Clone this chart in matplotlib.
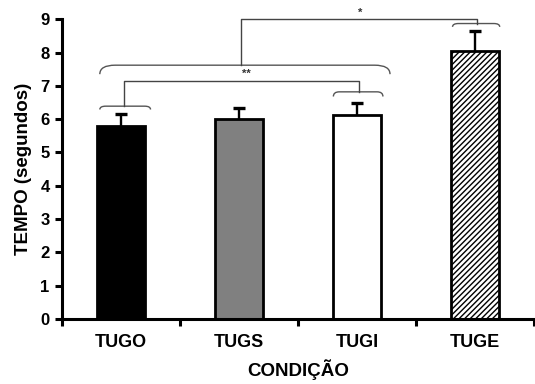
import matplotlib
matplotlib.use("Agg")
import matplotlib.pyplot as plt
from matplotlib.path import Path
from matplotlib.patches import PathPatch

# data
conditions = ["TUGO", "TUGS", "TUGI", "TUGE"]
means = [5.78, 6.0, 6.13, 8.04]
errors = [0.39, 0.35, 0.37, 0.60]
fills = ["black", "#808080", "white", "white"]
hatches = ["", "", "", "//////"]

plt.rcParams["font.family"] = ["Liberation Sans", "DejaVu Sans"]
plt.rcParams["font.weight"] = "bold"
plt.rcParams["hatch.linewidth"] = 1.0

fig = plt.figure(figsize=(5.35, 3.84), dpi=100)
ax = fig.add_axes([0.116, 0.169, 0.882, 0.781])

x = list(range(len(conditions)))
ax.bar(x, means, width=0.41, color=fills, edgecolor="black", linewidth=2.0,
       hatch=hatches, zorder=2)
_, caps, _ = ax.errorbar(x, means, yerr=[[0] * len(errors), errors], fmt="none",
                         ecolor="black", elinewidth=1.7, capsize=4.5,
                         capthick=2.4, zorder=3)
caps[0].set_visible(False)  # only the upper half is drawn in the original


def brace(x0, x1, y, drop, r):
    verts = [(x0, y - drop), (x0, y), (x0 + r, y), (x1 - r, y),
             (x1, y), (x1, y - drop)]
    codes = [Path.MOVETO, Path.CURVE3, Path.CURVE3, Path.LINETO,
             Path.CURVE3, Path.CURVE3]
    ax.add_patch(PathPatch(Path(verts, codes), fill=False, edgecolor="#555555",
                           linewidth=1.0, clip_on=False, zorder=4))


def link(xa, ya, xb, yb, ytop):
    ax.plot([xa, xa, xb, xb], [ya, ytop, ytop, yb], color="#444444",
            linewidth=1.0, clip_on=False, zorder=4)


# TUGO vs TUGI
brace(-0.18, 0.25, 6.39, 0.1, 0.05)
brace(1.80, 2.22, 6.82, 0.14, 0.05)
link(0.025, 6.39, 2.02, 6.82, 7.14)
ax.text(1.06, 7.2, "**", ha="center", va="bottom", fontsize=8, color="#333333")

# TUGO/TUGS/TUGI vs TUGE
brace(-0.18, 2.28, 7.62, 0.27, 0.13)
brace(2.81, 3.21, 8.87, 0.1, 0.05)
link(1.02, 7.62, 3.02, 8.87, 9.0)
ax.text(2.03, 9.03, "*", ha="center", va="bottom", fontsize=8, color="#333333")

ax.set_xlim(-0.5, 3.5)
ax.set_ylim(0, 9)
ax.set_yticks(range(10))
ax.set_xticks([-0.5, 0.5, 1.5, 2.5, 3.5])
ax.set_xticklabels([])
ax.set_xticks(x, minor=True)
ax.set_xticklabels(conditions, minor=True, fontsize=13, fontweight="bold")
ax.tick_params(axis="x", which="minor", length=0, pad=11)
ax.tick_params(axis="x", which="major", direction="out", length=5, width=2.2)
ax.tick_params(axis="y", direction="out", length=5, width=2.2, labelsize=12,
               pad=4)
for lab in ax.get_yticklabels():
    lab.set_fontweight("bold")

for side in ["top", "right"]:
    ax.spines[side].set_visible(False)
for side in ["left", "bottom"]:
    ax.spines[side].set_linewidth(2.2)

ax.set_xlabel("CONDIÇÃO", fontsize=13.5, fontweight="bold", labelpad=6)
ax.set_ylabel("TEMPO (segundos)", fontsize=13.5, fontweight="bold", labelpad=6)

fig.savefig("out.png", dpi=100)
